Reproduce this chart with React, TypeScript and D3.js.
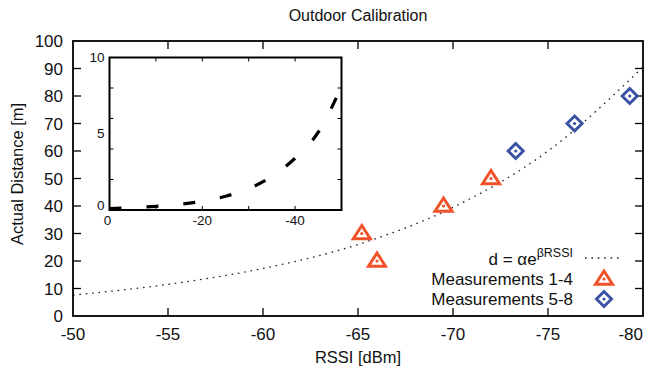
import React from 'react';
import * as d3 from 'd3';

// axis ticks
const xTicks = [-50, -55, -60, -65, -70, -75, -80];
const yTicks = [0, 10, 20, 30, 40, 50, 60, 70, 80, 90, 100];

const meas14Rssi = [-65.2, -66.0, -69.5, -72.0];
const meas14Dist = [30, 20, 40, 50];
const meas58Rssi = [-73.3, -76.4, -79.3];
const meas58Dist = [60, 70, 80];

// fitted curve d = a*e^(b*RSSI), sampled off the figure
const fitRssi = [-50, -55, -60, -65, -70, -75, -80];
const fitDist = [7.6, 11.5, 17.3, 26, 39.5, 60, 90.5];

// inset
const insetX = [0, -5, -10, -15, -20, -25, -30, -35, -40, -45, -50];
const insetY = [0.1, 0.16, 0.24, 0.37, 0.58, 0.9, 1.4, 2.2, 3.4, 5.1, 8.1];
const insetXTicks = [0, -10, -20, -30, -40, -50];
const insetXLabels = [0, -20, -40];
const insetYTicks = [2, 4, 6, 8];
const insetYLabels = [0, 5, 10];

const W = 646;
const H = 376;
const FONT = '"Liberation Sans", Arial, Helvetica, sans-serif';
const ORANGE = '#F0532A';
const BLUE = '#3A52A3';

const Triangle = ({ x, y }: { x: number; y: number }) => (
  <g transform={`translate(${x},${y})`}>
    <path d="M0,-8 L-8.5,5.2 L8.5,5.2 Z" fill="none" stroke={ORANGE} strokeWidth={3} strokeLinejoin="miter" />
    <circle r={1.6} fill={ORANGE} />
  </g>
);

const Diamond = ({ x, y }: { x: number; y: number }) => (
  <g transform={`translate(${x},${y})`}>
    <path d="M0,-7.5 L7.5,0 L0,7.5 L-7.5,0 Z" fill="none" stroke={BLUE} strokeWidth={3} strokeLinejoin="miter" />
    <circle r={1.6} fill={BLUE} />
  </g>
);

export default function App() {
  const left = 73, right = 643, top = 41, bottom = 316;
  const x = d3.scaleLinear().domain([-50, -80]).range([left, right]);
  const y = d3.scaleLinear().domain([0, 100]).range([bottom, top]);

  const fitLine = d3.line<number>()
    .x((_, i) => x(fitRssi[i]))
    .y(d => y(d))
    .curve(d3.curveMonotoneX);

  // inset
  const iL = 109.5, iR = 341.5, iT = 57.5, iB = 210;
  const ix = d3.scaleLinear().domain([0, -50]).range([iL, iR]);
  const iy = d3.scaleLinear().domain([0, 10]).range([iB, iT]);
  const insetLine = d3.line<number>()
    .x((_, i) => ix(insetX[i]))
    .y(d => iy(d))
    .curve(d3.curveMonotoneX);

  const lastX = xTicks[xTicks.length - 1];

  return (
    <svg width={W} height={H} style={{ position: 'absolute', left: 0, top: 0, background: '#fff' }}
      fontFamily={FONT}>
      <rect width={W} height={H} fill="#fff" />

      {/* title */}
      <text x={358} y={21} textAnchor="middle" fontSize={16} fill="#111">Outdoor Calibration</text>

      {/* fitted curve */}
      <path d={fitLine(fitDist) || ''} fill="none" stroke="#222" strokeWidth={1.3} strokeDasharray="1.6,4.8" />

      {/* main ticks */}
      {yTicks.slice(1, -1).map(t => (
        <g key={'yt' + t}>
          <line x1={left} x2={left + 8} y1={y(t)} y2={y(t)} stroke="#000" strokeWidth={1.3} />
          <line x1={right} x2={right - 8} y1={y(t)} y2={y(t)} stroke="#000" strokeWidth={1.3} />
        </g>
      ))}
      {xTicks.slice(1, -1).map(t => (
        <g key={'xt' + t}>
          <line x1={x(t)} x2={x(t)} y1={bottom} y2={bottom - 8} stroke="#000" strokeWidth={1.3} />
          <line x1={x(t)} x2={x(t)} y1={top} y2={top + 8} stroke="#000" strokeWidth={1.3} />
        </g>
      ))}
      {yTicks.map(t => (
        <text key={'yl' + t} x={63} y={y(t)} dy="0.36em" textAnchor="end" fontSize={17} fill="#111">{t}</text>
      ))}
      {xTicks.map(t => (
        <text key={'xl' + t} x={t === lastX ? W - 3 : x(t)} y={340}
          textAnchor={t === lastX ? 'end' : 'middle'} fontSize={17} fill="#111">{t}</text>
      ))}
      <rect x={left} y={top} width={right - left} height={bottom - top} fill="none" stroke="#000" strokeWidth={1.8} />

      {/* axis titles */}
      <text x={358} y={363} textAnchor="middle" fontSize={16.5} fill="#111">RSSI [dBm]</text>
      <text transform="translate(23,174) rotate(-90)" textAnchor="middle" fontSize={16.5} fill="#111">Actual Distance [m]</text>

      {/* points */}
      {meas14Dist.map((d, i) => <Triangle key={'t' + i} x={x(meas14Rssi[i])} y={y(d)} />)}
      {meas58Dist.map((d, i) => <Diamond key={'d' + i} x={x(meas58Rssi[i])} y={y(d)} />)}

      {/* inset */}
      <rect x={iL} y={iT} width={iR - iL} height={iB - iT} fill="#fff" />
      <path d={insetLine(insetY) || ''} fill="none" stroke="#000" strokeWidth={3.2} strokeDasharray="12,25" />
      {insetXTicks.slice(1, -1).map(t => (
        <g key={'ixt' + t}>
          <line x1={ix(t)} x2={ix(t)} y1={iB} y2={iB - 4} stroke="#000" strokeWidth={1} />
          <line x1={ix(t)} x2={ix(t)} y1={iT} y2={iT + 4} stroke="#000" strokeWidth={1} />
        </g>
      ))}
      {insetYTicks.map(t => (
        <g key={'iyt' + t}>
          <line x1={iL} x2={iL + 4} y1={iy(t)} y2={iy(t)} stroke="#000" strokeWidth={1} />
          <line x1={iR} x2={iR - 4} y1={iy(t)} y2={iy(t)} stroke="#000" strokeWidth={1} />
        </g>
      ))}
      {insetYLabels.map(t => (
        <text key={'iyl' + t} x={iL - 5} y={iy(t) - (t === 0 ? 4 : 0)} dy="0.3em" textAnchor="end"
          fontSize={13.5} fill="#111">{t}</text>
      ))}
      {insetXLabels.map(t => (
        <text key={'ixl' + t} x={ix(t) - (t === 0 ? 2 : 0)} y={225} textAnchor="middle" fontSize={13.5} fill="#111">{t}</text>
      ))}
      <rect x={iL} y={iT} width={iR - iL} height={iB - iT} fill="none" stroke="#000" strokeWidth={2} />

      {/* legend */}
      <text x={573} y={265} textAnchor="end" fontSize={17} fill="#111">
        d = αe<tspan dy={-8} fontSize={12.5}>βRSSI</tspan>
      </text>
      <line x1={585} x2={620} y1={258} y2={258} stroke="#222" strokeWidth={1.3} strokeDasharray="1.6,4.8" />
      <text x={573} y={285} textAnchor="end" fontSize={17} fill="#111">Measurements 1-4</text>
      <Triangle x={604} y={279} />
      <text x={573} y={305} textAnchor="end" fontSize={17} fill="#111">Measurements 5-8</text>
      <Diamond x={604} y={299} />
    </svg>
  );
}
